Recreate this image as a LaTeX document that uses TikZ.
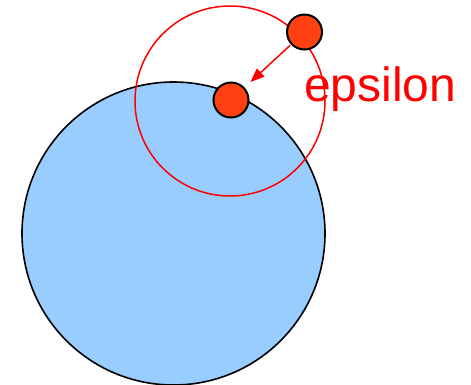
\documentclass[tikz,border=0pt]{standalone}
\usepackage{fontspec}
\setmainfont{Liberation Sans}
\usetikzlibrary{arrows.meta,positioning}
\definecolor{sky}{HTML}{99CCFF}
\definecolor{dotred}{HTML}{FF4010}
\definecolor{ered}{HTML}{FF0000}

\begin{document}
\begin{tikzpicture}[x=1pt,y=-1pt,ball/.style={circle,inner sep=0pt,draw=black,line width=1.6pt,fill=sky,minimum size=303pt},ring/.style={circle,inner sep=0pt,draw=ered,line width=1.5pt,minimum size=190pt},pt/.style={circle,inner sep=0pt,draw=black,line width=2pt,fill=dotred,minimum size=35pt},arr/.style={-{Triangle[length=14pt,width=11pt]},line width=1.5pt,draw=ered,shorten >=8pt,shorten <=1pt}]
\useasboundingbox (0,0) rectangle (471,384);
\node[ball] (set) at (173.5,233.5) {};
\node[ring] (nbhd) at (230,101) {};
\node[pt] (near) at (231,100) {};
\node[pt] (far) at (304.5,32) {};
\node[anchor=base west,inner sep=0pt,text=ered,font=\fontsize{48}{58}\selectfont] (eps) at (304,101.5) {epsilon};
\draw[arr] (far)--(near);
\end{tikzpicture}
\end{document}
